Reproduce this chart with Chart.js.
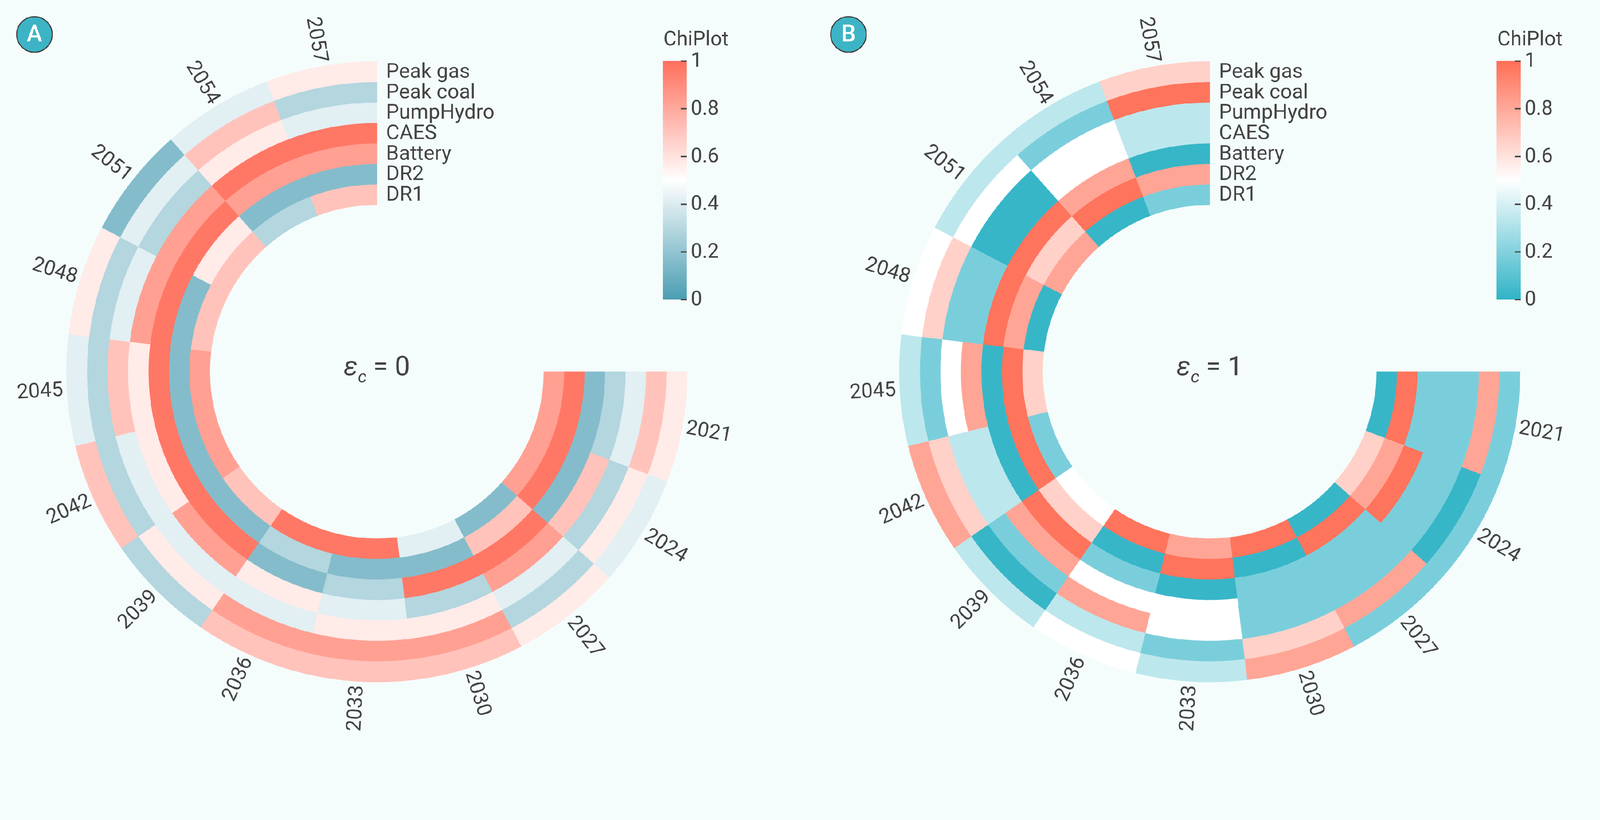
<!DOCTYPE html>
<html>
<head>
<meta charset="utf-8">
<script src="https://cdn.jsdelivr.net/npm/chart.js@4.4.1/dist/chart.umd.min.js"></script>
<style>
  html, body { margin: 0; padding: 0; background: #f4fdfc; overflow: hidden; }
  #wrap { position: relative; width: 4505px; height: 2100px; overflow: hidden; background: #f4fdfc; transform-origin: 0 0; }
  canvas { position: absolute; top: 0; }
</style>
</head>
<body>
<div id="wrap">
  <canvas id="panelA" width="2252" height="2100" style="left:0px"></canvas>
  <canvas id="panelB" width="2253" height="2100" style="left:2252px"></canvas>
</div>
<script>
// sectors go clockwise from 3 o'clock
const years = ['2021', '2024', '2027', '2030', '2033', '2036', '2039', '2042', '2045', '2048', '2051', '2054', '2057'];
// rings, outermost first
const techs = ['Peak gas', 'Peak coal', 'PumpHydro', 'CAES', 'Battery', 'DR2', 'DR1'];
const cbTicks = [0, 0.2, 0.4, 0.6, 0.8, 1];
const cbTickLabels = ['0', '0.2', '0.4', '0.6', '0.8', '1'];

// panel A, eps_c = 0
const peakGasA   = [0.57, 0.42, 0.57, 0.71, 0.71, 0.71, 0.29, 0.71, 0.42, 0.57, 0.16, 0.42, 0.57];
const peakCoalA  = [0.71, 0.57, 0.29, 0.83, 0.83, 0.83, 0.57, 0.29, 0.29, 0.29, 0.42, 0.71, 0.29];
const pumpHydroA = [0.42, 0.29, 0.42, 0.57, 0.57, 0.42, 0.42, 0.42, 0.71, 0.42, 0.29, 0.57, 0.42];
const caesA      = [0.29, 0.71, 0.83, 0.29, 0.42, 0.57, 0.83, 0.57, 0.57, 0.83, 0.83, 0.97, 0.97];
const batteryA   = [0.16, 0.16, 0.97, 0.97, 0.29, 0.16, 0.97, 0.97, 0.97, 0.97, 0.97, 0.83, 0.83];
const dr2A       = [0.97, 0.97, 0.71, 0.16, 0.16, 0.29, 0.16, 0.16, 0.16, 0.16, 0.57, 0.16, 0.16];
const dr1A       = [0.83, 0.83, 0.16, 0.42, 0.97, 0.97, 0.71, 0.83, 0.83, 0.71, 0.71, 0.29, 0.71];

// panel B, eps_c = 1
const peakGasB   = [0.18, 0.18, 0.18, 0.81, 0.34, 0.50, 0.34, 0.81, 0.34, 0.50, 0.34, 0.34, 0.66];
const peakCoalB  = [0.81, 0.02, 0.81, 0.66, 0.18, 0.34, 0.02, 0.66, 0.18, 0.66, 0.50, 0.18, 0.98];
const pumpHydroB = [0.18, 0.18, 0.18, 0.18, 0.50, 0.81, 0.18, 0.34, 0.50, 0.18, 0.02, 0.50, 0.34];
const caesB      = [0.18, 0.18, 0.18, 0.18, 0.50, 0.50, 0.81, 0.34, 0.81, 0.18, 0.02, 0.50, 0.34];
const batteryB   = [0.18, 0.98, 0.18, 0.18, 0.02, 0.18, 0.98, 0.02, 0.02, 0.98, 0.98, 0.81, 0.02];
const dr2B       = [0.98, 0.81, 0.98, 0.02, 0.98, 0.02, 0.66, 0.98, 0.98, 0.81, 0.66, 0.98, 0.81];
const dr1B       = [0.02, 0.66, 0.02, 0.98, 0.81, 0.98, 0.50, 0.18, 0.66, 0.02, 0.81, 0.02, 0.18];

const TEXT = '#444444';
const FONT = 'Roboto';

// fit the 4505x2100 layout into whatever viewport we get
const wrap = document.getElementById('wrap');
const fit = Math.min(window.innerWidth / 4505, window.innerHeight / 2100);
wrap.style.transform = 'scale(' + fit + ')';

// diverging scale: low -> white (0.5) -> high
function cellColor(v, low, high) {
  const end = v < 0.5 ? low : high;
  const t = Math.min(Math.abs(v - 0.5) / 0.5, 1);
  const c = end.map(ch => Math.round(255 + (ch - 255) * t));
  return 'rgb(' + c[0] + ',' + c[1] + ',' + c[2] + ')';
}

function makePanel(canvasId, rows, low, high, tag, epsValue, cx, barX, badgeX) {
  const canvas = document.getElementById(canvasId);
  const w = canvas.width, h = canvas.height;
  const cy = 1047, R = 874.5;

  const overlay = {
    id: 'overlay' + tag,
    afterDraw(chart) {
      const ctx = chart.ctx;
      ctx.save();
      ctx.fillStyle = TEXT;

      // ring names in the gap at the top
      ctx.font = '58px ' + FONT;
      ctx.textAlign = 'left';
      ctx.textBaseline = 'alphabetic';
      techs.forEach((name, i) => {
        const arc = chart.getDatasetMeta(i).data[0];
        const rMid = (arc.innerRadius + arc.outerRadius) / 2;
        ctx.fillText(name, arc.x + 26, arc.y - rMid + 17);
      });

      // year labels round the outside
      const outer = chart.getDatasetMeta(0).data;
      ctx.textAlign = 'center';
      ctx.textBaseline = 'middle';
      outer.forEach((arc, j) => {
        const a = (arc.startAngle + arc.endAngle) / 2;
        const r = arc.outerRadius + 76;
        let rot = a;
        if (a > Math.PI / 2 && a < Math.PI * 1.5) rot = a - Math.PI;
        ctx.save();
        ctx.translate(arc.x + r * Math.cos(a), arc.y + r * Math.sin(a));
        ctx.rotate(rot);
        ctx.fillText(years[j], 0, 0);
        ctx.restore();
      });

      // centre text
      const arc0 = outer[0];
      ctx.textAlign = 'left';
      ctx.textBaseline = 'alphabetic';
      ctx.font = 'italic 76px ' + FONT;
      const wEps = ctx.measureText('\u03B5').width;
      ctx.font = 'italic 48px ' + FONT;
      const wSub = ctx.measureText('c').width;
      ctx.font = '76px ' + FONT;
      const rest = ' = ' + epsValue;
      const wRest = ctx.measureText(rest).width;
      let x = arc0.x - (wEps + wSub + wRest) / 2;
      const base = arc0.y + 10;
      ctx.font = 'italic 76px ' + FONT;
      ctx.fillText('\u03B5', x, base);
      x += wEps;
      ctx.font = 'italic 48px ' + FONT;
      ctx.fillText('c', x, base + 20);
      x += wSub;
      ctx.font = '76px ' + FONT;
      ctx.fillText(rest, x, base);

      // colour bar
      const barTop = 172, barBot = 844, barW = 68;
      const g = ctx.createLinearGradient(0, barTop, 0, barBot);
      for (let k = 0; k <= 20; k++) {
        g.addColorStop(k / 20, cellColor(1 - k / 20, low, high));
      }
      ctx.fillStyle = g;
      ctx.fillRect(barX, barTop, barW, barBot - barTop);

      ctx.strokeStyle = TEXT;
      ctx.lineWidth = 4;
      ctx.fillStyle = TEXT;
      ctx.font = '57px ' + FONT;
      ctx.textBaseline = 'middle';
      cbTicks.forEach((t, k) => {
        const y = barBot - t * (barBot - barTop);
        ctx.beginPath();
        ctx.moveTo(barX + barW - 17, y);
        ctx.lineTo(barX + barW, y);
        ctx.stroke();
        ctx.fillText(cbTickLabels[k], barX + barW + 11, y + 2);
      });
      ctx.textBaseline = 'alphabetic';
      ctx.fillText('ChiPlot', barX + 2, 128);

      // panel badge
      ctx.beginPath();
      ctx.arc(badgeX, 97, 50, 0, Math.PI * 2);
      ctx.fillStyle = '#3db4c5';
      ctx.fill();
      ctx.lineWidth = 3;
      ctx.strokeStyle = '#3a3a3a';
      ctx.stroke();
      ctx.fillStyle = '#ffffff';
      ctx.font = '500 66px ' + FONT;
      ctx.textAlign = 'center';
      ctx.textBaseline = 'middle';
      ctx.fillText(tag, badgeX, 100);

      ctx.restore();
    }
  };

  return new Chart(canvas, {
    type: 'doughnut',
    data: {
      labels: years,
      datasets: rows.map((vals, i) => ({
        label: techs[i],
        data: vals.map(() => 1),
        backgroundColor: vals.map(v => cellColor(v, low, high)),
        borderColor: vals.map(v => cellColor(v, low, high)),
        borderWidth: 1
      }))
    },
    options: {
      responsive: false,
      animation: false,
      events: [],
      rotation: 90,
      circumference: 270,
      cutout: '53.8%',
      layout: {
        padding: { left: cx - R, right: w - cx - R, top: cy - R, bottom: h - cy - R }
      },
      plugins: {
        legend: { display: false },
        tooltip: { enabled: false }
      }
    },
    plugins: [overlay]
  });
}

makePanel('panelA',
  [peakGasA, peakCoalA, pumpHydroA, caesA, batteryA, dr2A, dr1A],
  [74, 157, 178], [255, 111, 92], 'A', '0', 1061, 1866, 97);

makePanel('panelB',
  [peakGasB, peakCoalB, pumpHydroB, caesB, batteryB, dr2B, dr1B],
  [47, 179, 198], [255, 110, 85], 'B', '1', 1154, 1962, 137);
</script>
</body>
</html>
